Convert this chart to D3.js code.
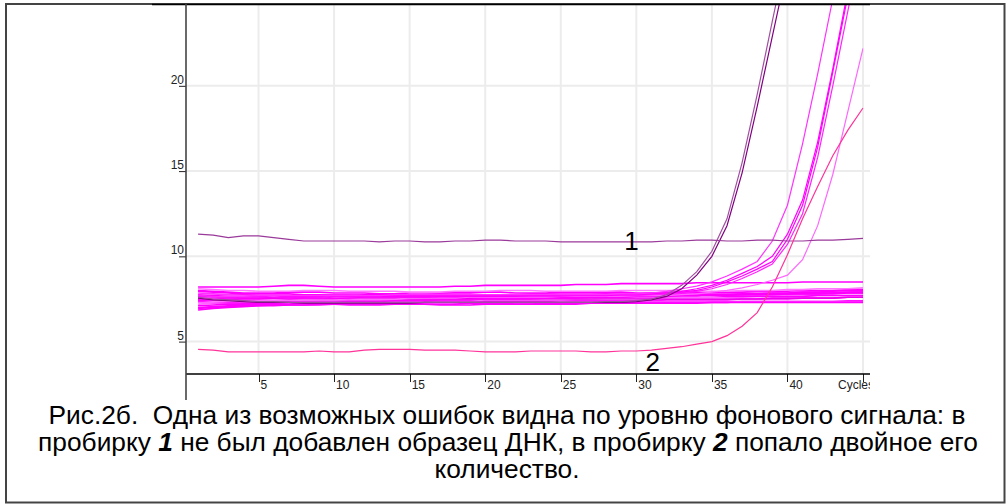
<!DOCTYPE html>
<html><head><meta charset="utf-8">
<script src="https://cdn.jsdelivr.net/npm/d3@7"></script>
<style>
html,body{margin:0;padding:0;background:#fff;}
svg{display:block;}
</style></head><body>
<svg id="chart" width="1006" height="504"></svg>
<script>
// ---------- data ----------
const cycles = [1,2,3,4,5,6,7,8,9,10,11,12,13,14,15,16,17,18,19,20,21,22,23,24,25,26,27,28,29,30,31,32,33,34,35,36,37,38,39,40,41,42,43,44,45];
const xTicks = [5,10,15,20,25,30,35,40];
const xGrid = [5,10,15,20,25,30,35,40,45];
const yTicks = [5,10,15,20];
const xAxisTitle = "Cycles";

// flat background curves (the dense band)
const band01 = [6.85,6.95,7.0,7.05,7.1,7.1,7.15,7.15,7.15,7.2,7.2,7.2,7.2,7.2,7.25,7.2,7.2,7.2,7.25,7.25,7.25,7.2,7.2,7.25,7.25,7.25,7.25,7.3,7.3,7.3,7.3,7.3,7.3,7.3,7.3,7.3,7.35,7.35,7.35,7.35,7.35,7.35,7.35,7.4,7.4];
const band02 = [7.0,7.05,7.1,7.15,7.2,7.2,7.2,7.25,7.25,7.25,7.3,7.3,7.3,7.3,7.3,7.35,7.35,7.3,7.3,7.35,7.35,7.35,7.35,7.35,7.4,7.4,7.4,7.4,7.4,7.4,7.4,7.45,7.45,7.45,7.45,7.45,7.5,7.5,7.5,7.5,7.55,7.55,7.55,7.6,7.6];
const band03 = [7.2,7.25,7.25,7.3,7.3,7.35,7.35,7.4,7.4,7.4,7.4,7.45,7.45,7.45,7.45,7.5,7.5,7.5,7.5,7.5,7.5,7.55,7.55,7.55,7.55,7.5,7.5,7.55,7.55,7.55,7.55,7.6,7.6,7.6,7.6,7.6,7.6,7.65,7.65,7.65,7.65,7.7,7.7,7.7,7.7];
const band04 = [7.45,7.45,7.5,7.5,7.5,7.55,7.55,7.55,7.5,7.5,7.5,7.55,7.55,7.6,7.6,7.6,7.55,7.55,7.6,7.6,7.6,7.6,7.6,7.65,7.65,7.65,7.6,7.6,7.6,7.65,7.65,7.65,7.7,7.7,7.7,7.7,7.75,7.75,7.75,7.8,7.8,7.8,7.8,7.85,7.85];
const band05 = [7.65,7.6,7.6,7.55,7.55,7.55,7.5,7.5,7.5,7.5,7.55,7.55,7.55,7.55,7.5,7.5,7.5,7.55,7.55,7.55,7.5,7.5,7.5,7.5,7.5,7.5,7.5,7.5,7.5,7.5,7.5,7.5,7.5,7.5,7.5,7.5,7.5,7.5,7.55,7.55,7.55,7.55,7.55,7.6,7.6];
const band06 = [7.85,7.8,7.75,7.75,7.7,7.7,7.7,7.7,7.75,7.75,7.75,7.7,7.7,7.7,7.75,7.75,7.8,7.8,7.8,7.75,7.75,7.75,7.8,7.8,7.8,7.8,7.8,7.8,7.75,7.75,7.75,7.75,7.8,7.8,7.8,7.8,7.85,7.85,7.85,7.85,7.9,7.9,7.9,7.9,7.95];
const band07 = [8.0,7.95,7.9,7.85,7.85,7.85,7.9,7.9,7.9,7.85,7.85,7.85,7.8,7.8,7.85,7.85,7.85,7.9,7.9,7.9,7.9,7.85,7.85,7.85,7.9,7.9,7.9,7.9,7.9,7.85,7.85,7.85,7.85,7.9,7.9,7.9,7.9,7.95,7.95,7.95,8.0,8.0,8.0,8.05,8.05];
const band08 = [8.1,8.05,8.0,8.0,7.95,7.95,7.95,8.0,8.0,8.0,7.95,7.95,7.95,7.95,7.9,7.9,7.9,7.95,7.95,7.95,8.0,8.0,8.0,7.95,7.95,7.95,7.95,7.95,8.0,8.0,8.0,8.0,8.0,7.95,7.95,7.95,8.0,8.0,8.0,8.05,8.05,8.1,8.1,8.1,8.15];
const band09 = [7.35,7.3,7.3,7.25,7.25,7.25,7.3,7.3,7.35,7.35,7.35,7.35,7.4,7.4,7.4,7.45,7.45,7.45,7.45,7.5,7.5,7.5,7.55,7.55,7.55,7.6,7.6,7.6,7.65,7.65,7.65,7.7,7.7,7.7,7.75,7.75,7.8,7.8,7.85,7.85,7.9,7.9,7.95,8.0,8.0];
const band10 = [7.55,7.5,7.45,7.4,7.4,7.4,7.35,7.35,7.35,7.35,7.4,7.4,7.4,7.4,7.35,7.35,7.35,7.35,7.35,7.4,7.4,7.4,7.4,7.4,7.4,7.35,7.35,7.35,7.35,7.35,7.35,7.35,7.35,7.35,7.35,7.35,7.35,7.35,7.35,7.35,7.35,7.35,7.35,7.35,7.35];
const band11 = [7.75,7.7,7.65,7.65,7.65,7.6,7.65,7.65,7.65,7.7,7.7,7.7,7.65,7.65,7.65,7.65,7.7,7.7,7.7,7.7,7.65,7.65,7.65,7.7,7.7,7.7,7.7,7.7,7.7,7.7,7.7,7.7,7.7,7.7,7.7,7.65,7.65,7.65,7.65,7.65,7.65,7.7,7.7,7.7,7.7];
const band12 = [7.1,7.15,7.2,7.2,7.25,7.25,7.3,7.3,7.3,7.3,7.35,7.35,7.35,7.4,7.4,7.4,7.45,7.45,7.45,7.5,7.5,7.5,7.5,7.55,7.55,7.55,7.6,7.6,7.6,7.65,7.65,7.7,7.7,7.7,7.75,7.75,7.75,7.8,7.8,7.8,7.85,7.85,7.85,7.9,7.9];
const band13 = [6.95,7.0,7.05,7.1,7.1,7.15,7.15,7.15,7.2,7.2,7.15,7.15,7.15,7.2,7.2,7.2,7.15,7.15,7.15,7.2,7.2,7.2,7.2,7.2,7.2,7.2,7.25,7.25,7.25,7.25,7.25,7.25,7.25,7.25,7.3,7.3,7.3,7.3,7.3,7.3,7.3,7.3,7.3,7.3,7.3];
const band14 = [7.95,7.9,7.85,7.8,7.8,7.8,7.8,7.75,7.75,7.7,7.7,7.75,7.75,7.75,7.75,7.7,7.7,7.7,7.65,7.65,7.7,7.7,7.7,7.7,7.65,7.65,7.65,7.65,7.65,7.7,7.7,7.7,7.7,7.7,7.75,7.75,7.75,7.75,7.8,7.8,7.8,7.8,7.85,7.85,7.85];
const bandTop = [8.2,8.2,8.2,8.2,8.2,8.25,8.3,8.3,8.25,8.2,8.2,8.2,8.2,8.2,8.2,8.2,8.2,8.25,8.25,8.3,8.3,8.3,8.3,8.3,8.3,8.35,8.35,8.35,8.4,8.4,8.4,8.4,8.4,8.45,8.45,8.45,8.45,8.45,8.45,8.45,8.5,8.5,8.5,8.5,8.5];

// amplifying curves
const purpleA = [7.6,7.5,7.45,7.4,7.35,7.35,7.3,7.3,7.3,7.3,7.3,7.3,7.3,7.3,7.3,7.3,7.3,7.3,7.3,7.3,7.3,7.3,7.3,7.3,7.3,7.3,7.3,7.35,7.35,7.4,7.5,7.75,8.3,9.1,10.3,12.2,15.5,19.5,23.8,28.0,31,33,34,35,36];
const purpleB = [7.55,7.45,7.4,7.35,7.3,7.3,7.3,7.25,7.25,7.25,7.25,7.25,7.25,7.25,7.25,7.3,7.3,7.3,7.3,7.3,7.3,7.3,7.3,7.3,7.3,7.3,7.3,7.3,7.3,7.35,7.45,7.65,8.1,8.9,10.0,11.8,14.9,18.8,22.9,27.0,30,32,33,34,35];
const magenta1 = [7.6,7.6,7.65,7.65,7.7,7.7,7.7,7.7,7.7,7.7,7.7,7.7,7.7,7.75,7.75,7.75,7.75,7.75,7.75,7.75,7.75,7.75,7.75,7.75,7.75,7.75,7.75,7.75,7.8,7.8,7.85,7.95,8.1,8.25,8.5,8.85,9.25,9.7,10.9,13.0,16.6,20.7,25.1,29.0,32.0];
const magenta2 = [7.5,7.5,7.55,7.55,7.55,7.6,7.6,7.6,7.6,7.65,7.65,7.65,7.65,7.65,7.7,7.7,7.7,7.7,7.7,7.7,7.7,7.75,7.75,7.75,7.75,7.75,7.75,7.8,7.8,7.8,7.85,7.9,7.95,8.1,8.3,8.6,9.0,9.4,10.0,11.3,13.3,16.7,21.0,25.6,30.0];
const magenta3 = [7.4,7.45,7.45,7.5,7.5,7.5,7.5,7.55,7.55,7.55,7.55,7.6,7.6,7.6,7.6,7.6,7.65,7.65,7.65,7.65,7.65,7.65,7.7,7.7,7.7,7.7,7.7,7.7,7.75,7.75,7.8,7.85,7.9,8.0,8.2,8.5,8.85,9.25,9.7,11.0,13.0,16.4,20.8,25.3,29.8];
const magenta4 = [7.7,7.65,7.6,7.6,7.6,7.6,7.55,7.55,7.55,7.6,7.6,7.6,7.6,7.6,7.6,7.6,7.6,7.6,7.65,7.65,7.65,7.65,7.65,7.65,7.65,7.7,7.7,7.7,7.7,7.7,7.75,7.8,7.85,7.95,8.1,8.35,8.7,9.1,9.55,10.7,12.5,15.8,20.0,24.4,28.8];
const magenta5 = [7.3,7.3,7.35,7.35,7.4,7.4,7.4,7.45,7.45,7.45,7.5,7.5,7.5,7.5,7.55,7.55,7.55,7.55,7.6,7.6,7.6,7.6,7.6,7.6,7.65,7.65,7.65,7.65,7.65,7.7,7.7,7.7,7.75,7.8,7.9,8.0,8.15,8.35,8.6,8.9,9.8,11.8,14.8,18.5,22.2];

// tube 1 (no DNA) and tube 2 (double DNA)
const tube1 = [11.3,11.25,11.1,11.2,11.2,11.1,11.0,10.9,10.9,10.9,10.9,10.9,10.85,10.9,10.9,10.85,10.85,10.9,10.9,10.95,10.95,10.9,10.9,10.9,10.85,10.85,10.85,10.85,10.85,10.85,10.85,10.9,10.9,10.95,10.95,10.9,10.9,10.95,10.95,10.9,10.9,10.95,10.95,11.0,11.05];
const tube2 = [4.55,4.5,4.4,4.4,4.4,4.4,4.4,4.4,4.45,4.4,4.4,4.5,4.55,4.55,4.55,4.5,4.5,4.5,4.45,4.4,4.4,4.4,4.45,4.45,4.45,4.45,4.4,4.4,4.45,4.45,4.5,4.6,4.7,4.85,5.0,5.35,5.9,6.7,8.2,10.1,12.2,14.1,15.9,17.4,18.7];

const curveValues = [band01,band02,band03,band04,band05,band06,band07,band08,band09,band10,band11,band12,band13,band14,bandTop,
                     magenta5,magenta4,magenta3,magenta2,magenta1,purpleB,purpleA,tube1,tube2];
const curveColors = ["#ff00ff","#ff00ff","#ff66ff","#ff00ff","#ee00ee","#ff33ff","#ff00ff","#ff77ff","#ff00ff","#ff44ff","#ff00ff","#ff00ff","#ff00ff","#ff00ff","#ff00ff",
                     "#ff66ff","#ff22ff","#ff00ff","#ff00ff","#ff33ff","#800080","#a050a0","#9a3a9a","#ff3399"];

const curveLabels = [{text:"1", cycle:29.2, value:10.35},{text:"2", cycle:30.6, value:3.3}];

// ---------- drawing ----------
const svg = d3.select("#chart");
const FONT = "'Liberation Sans', Arial, sans-serif";

const x = d3.scaleLinear().domain([0.2, 45]).range([186, 863]);
const y = d3.scaleLinear().domain([3.1, 24.8]).range([374, 4]);

// outer frame
svg.append("rect").attr("x",6).attr("y",4).attr("width",998.5).attr("height",498.5)
  .attr("fill","#fff").attr("stroke","#444").attr("stroke-width",2);

// chart picture area
svg.append("rect").attr("x",152).attr("y",5).attr("width",718).attr("height",396).attr("fill","#fff");

// grid
const grid = svg.append("g");
grid.selectAll("line.gx").data(xGrid).join("line")
  .attr("x1",d=>x(d)).attr("x2",d=>x(d)).attr("y1",4).attr("y2",374)
  .attr("stroke","#ececec").attr("stroke-width",2);
grid.selectAll("line.gy").data(yTicks).join("line")
  .attr("x1",186).attr("x2",870).attr("y1",d=>y(d)).attr("y2",d=>y(d))
  .attr("stroke","#ececec").attr("stroke-width",2);

// curves
svg.append("clipPath").attr("id","plotclip").append("rect")
  .attr("x",186).attr("y",4).attr("width",677.5).attr("height",370);
const line = d3.line().x((d,i)=>x(cycles[i])).y(d=>y(d));
svg.append("g").attr("clip-path","url(#plotclip)")
  .selectAll("path").data(curveValues).join("path")
  .attr("d", d=>line(d))
  .attr("fill","none")
  .attr("stroke",(d,i)=>curveColors[i])
  .attr("stroke-width",(d,i)=> i < 15 ? 1.6 : 1.2);

// top frame of chart picture
svg.append("line").attr("x1",152).attr("x2",870).attr("y1",4.5).attr("y2",4.5).attr("stroke","#000").attr("stroke-width",1.5);

// x axis
const xAxis = d3.axisBottom(x).tickValues(xTicks.concat([45])).tickSize(8).tickSizeOuter(0).tickFormat(d=> d===45 ? "" : d3.format("d")(d));
const gx = svg.append("g").attr("transform","translate(0,374)").call(xAxis);
gx.select(".domain").remove();
gx.selectAll(".tick line").attr("stroke","#222").attr("shape-rendering","crispEdges");
gx.selectAll(".tick text").attr("text-anchor","start").attr("x",1.5).attr("y",15).attr("dy",0)
  .attr("font-family",FONT).attr("font-size",12).attr("fill","#222");
svg.append("line").attr("x1",186).attr("x2",870).attr("y1",374).attr("y2",374).attr("stroke","#000").attr("stroke-width",1.5);

svg.append("clipPath").attr("id","titleclip").append("rect").attr("x",800).attr("y",376).attr("width",70).attr("height",20);
svg.append("text").attr("clip-path","url(#titleclip)").attr("x",x(45)-25).attr("y",389)
  .attr("font-family",FONT).attr("font-size",12).attr("fill","#222").text(xAxisTitle);

// y axis
const yAxis = d3.axisLeft(y).tickValues(yTicks).tickSize(7).tickSizeOuter(0).tickFormat(d3.format("d"));
const gy = svg.append("g").attr("transform","translate(186,0)").call(yAxis);
gy.select(".domain").remove();
gy.selectAll(".tick line").attr("stroke","#222");
gy.selectAll(".tick text").attr("x",-2).attr("y",-2.5).attr("dy",0)
  .attr("font-family",FONT).attr("font-size",12).attr("fill","#222");
svg.append("line").attr("x1",186).attr("x2",186).attr("y1",4).attr("y2",400).attr("stroke","#444").attr("stroke-width",1.6);

// curve labels
svg.selectAll("text.cl").data(curveLabels).join("text")
  .attr("x",d=>x(d.cycle)).attr("y",d=>y(d.value))
  .attr("font-family",FONT).attr("font-size",26).attr("fill","#000").text(d=>d.text);

// caption
const cap = svg.append("text").attr("font-family",FONT).attr("font-size",26.3).attr("fill","#000")
  .attr("text-anchor","middle").style("white-space","pre");
const L1 = cap.append("tspan").attr("x",507).attr("y",424);
L1.text("Рис.2б.  Одна из возможных ошибок видна по уровню фонового сигнала: в");
const L2 = cap.append("tspan").attr("x",508).attr("y",451);
L2.append("tspan").text("пробирку ");
L2.append("tspan").attr("font-weight","bold").attr("font-style","italic").text("1");
L2.append("tspan").text(" не был добавлен образец ДНК, в пробирку ");
L2.append("tspan").attr("font-weight","bold").attr("font-style","italic").text("2");
L2.append("tspan").text(" попало двойное его");
cap.append("tspan").attr("x",507).attr("y",478).text("количество.");
</script>
</body></html>
